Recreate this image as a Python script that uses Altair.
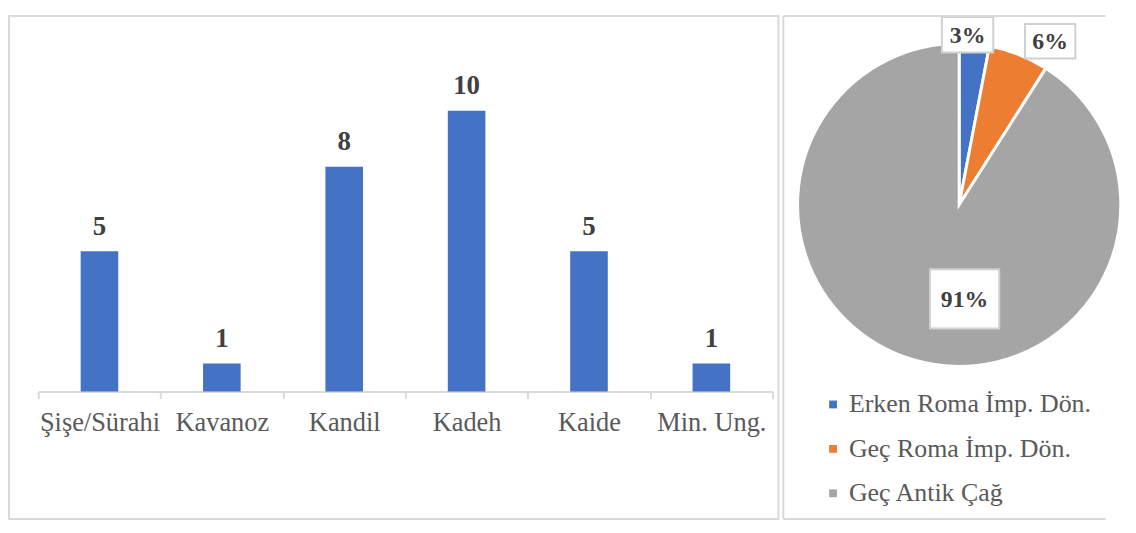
import altair as alt
import pandas as pd

# ---------------- data ----------------
categories = ["Şişe/Sürahi", "Kavanoz", "Kandil", "Kadeh", "Kaide", "Min. Ung."]
counts = [5, 1, 8, 10, 5, 1]

periods = ["Erken Roma İmp. Dön.", "Geç Roma İmp. Dön.", "Geç Antik Çağ"]
shares = [3, 6, 91]
share_labels = ["3%", "6%", "91%"]
period_colors = ["#4472C4", "#ED7D31", "#A5A5A5"]

bar_df = pd.DataFrame({"category": categories, "count": counts})
pie_df = pd.DataFrame({
    "period": periods,
    "share": shares,
    "label": share_labels,
    "order": list(range(len(periods))),
})

# ---------------- layout / style ----------------
FONT = "Liberation Serif"
H = 515          # panel height
LW = 788         # left panel width
RW = 330         # right panel width
SP = 2           # gap between panels
BORDER = "#d9d9d9"

# bar panel: baseline and top of tallest bar in view pixels
base_px = 384.6
top_px = 96.9
vmax = max(counts)
ppu = (base_px - top_px) / vmax
ymax = vmax + top_px / ppu
ymin = -(H - base_px) / ppu

xscale = alt.Scale(range=[30, 782], paddingInner=0, paddingOuter=0)
xenc = alt.X(
    "category:N", sort=categories, scale=xscale,
    axis=alt.Axis(
        title=None, labelAngle=0, labelFont=FONT, labelFontSize=27,
        labelColor="#595959", labelPadding=12, domainColor=BORDER,
        domainWidth=2, tickColor=BORDER, tickWidth=2, tickSize=7,
        tickBand="extent", offset=-(H - base_px), labelOverlap=False,
        labelBound=False, grid=False, labelLimit=0,
    ),
)
yenc = alt.Y("count:Q", scale=alt.Scale(domain=[ymin, ymax], nice=False, zero=False), axis=None)

bars = alt.Chart(bar_df).mark_bar(width=38.5, color="#4472C4").encode(
    x=xenc, y=yenc, y2=alt.datum(0)
)
bar_text = alt.Chart(bar_df).mark_text(
    font=FONT, fontSize=27.5, fontWeight="bold", color="#404040",
    baseline="alphabetic", dy=-17,
).encode(x=xenc, y=yenc, text="count:Q")

left = alt.layer(bars, bar_text).properties(
    width=LW, height=H, view=alt.ViewBackground(stroke=BORDER, strokeWidth=2)
)

# pie panel
cx, cy, R = 180.1, 193.3, 165.5

arcs = alt.Chart(pie_df).mark_arc(radius=R, stroke="white", strokeWidth=3).encode(
    theta=alt.Theta("share:Q", stack=True),
    order=alt.Order("order:Q"),
    color=alt.Color(
        "period:N", sort=periods,
        scale=alt.Scale(domain=periods, range=period_colors),
        legend=alt.Legend(
            title=None, orient="none", legendX=LW + SP + 40.7, legendY=384.5,
            symbolType="square", symbolSize=64, symbolStrokeWidth=0,
            labelFont=FONT, labelFontSize=26.5, labelColor="#595959",
            labelOffset=3, rowPadding=18.5, padding=0, labelLimit=0,
        ),
    ),
    x=alt.value(cx), y=alt.value(cy),
)

# label placement: (radius px, angle shift deg from slice middle, box w, box h)
label_style = [(174.3, -2.57, 52.6, 36.4), (191.7, 7.47, 51.6, 35.4), (96.4, -19.5, 70.9, 60.7)]

base = alt.Chart(pie_df).transform_window(
    cum="sum(share)", sort=[alt.SortField("order")], frame=[None, 0]
).transform_joinaggregate(total="sum(share)").transform_calculate(
    mid="(datum.cum - datum.share / 2) / datum.total * 2 * PI"
)

label_layers = []
for i, (r, shift, bw, bh) in enumerate(label_style):
    b = base.transform_filter(f"datum.order == {i}").transform_calculate(
        a=f"datum.mid + ({shift}) * PI / 180"
    ).transform_calculate(
        lx=f"{cx} + {r} * sin(datum.a)",
        ly=f"{cy} - {r} * cos(datum.a)",
    ).transform_calculate(
        bx1=f"datum.lx - {bw / 2}", bx2=f"datum.lx + {bw / 2}",
        by1=f"datum.ly - {bh / 2}", by2=f"datum.ly + {bh / 2}",
    )
    box = b.mark_rect(fill="white", stroke="#d0d0d0", strokeWidth=2).encode(
        x=alt.X("bx1:Q", scale=None), x2="bx2:Q",
        y=alt.Y("by1:Q", scale=None), y2="by2:Q",
    )
    txt = b.mark_text(
        font=FONT, fontSize=24.3, fontWeight="bold", color="#404040",
        baseline="middle", align="center", dy=1,
    ).encode(
        x=alt.X("lx:Q", scale=None), y=alt.Y("ly:Q", scale=None), text="label:N"
    )
    label_layers += [box, txt]

# right panel frame: top, left and bottom edges only (right edge runs off the page)
frame_df = pd.DataFrame({"edge": ["top", "left", "bottom"]})
frame_base = alt.Chart(frame_df).mark_rule(color=BORDER, strokeWidth=2)
frame_top = frame_base.transform_filter("datum.edge == 'top'").encode(
    x=alt.value(0), x2=alt.value(RW), y=alt.value(0))
frame_left = frame_base.transform_filter("datum.edge == 'left'").encode(
    x=alt.value(0), y=alt.value(0), y2=alt.value(H))
frame_bottom = frame_base.transform_filter("datum.edge == 'bottom'").encode(
    x=alt.value(0), x2=alt.value(RW), y=alt.value(H))

right = alt.layer(arcs, *label_layers, frame_top, frame_left, frame_bottom).properties(
    width=RW, height=H, view=alt.ViewBackground(stroke="transparent")
)

chart = alt.hconcat(left, right, spacing=SP).properties(padding=0, background="white")

chart.save("out.html", embed_options={"renderer": "svg", "actions": False})
